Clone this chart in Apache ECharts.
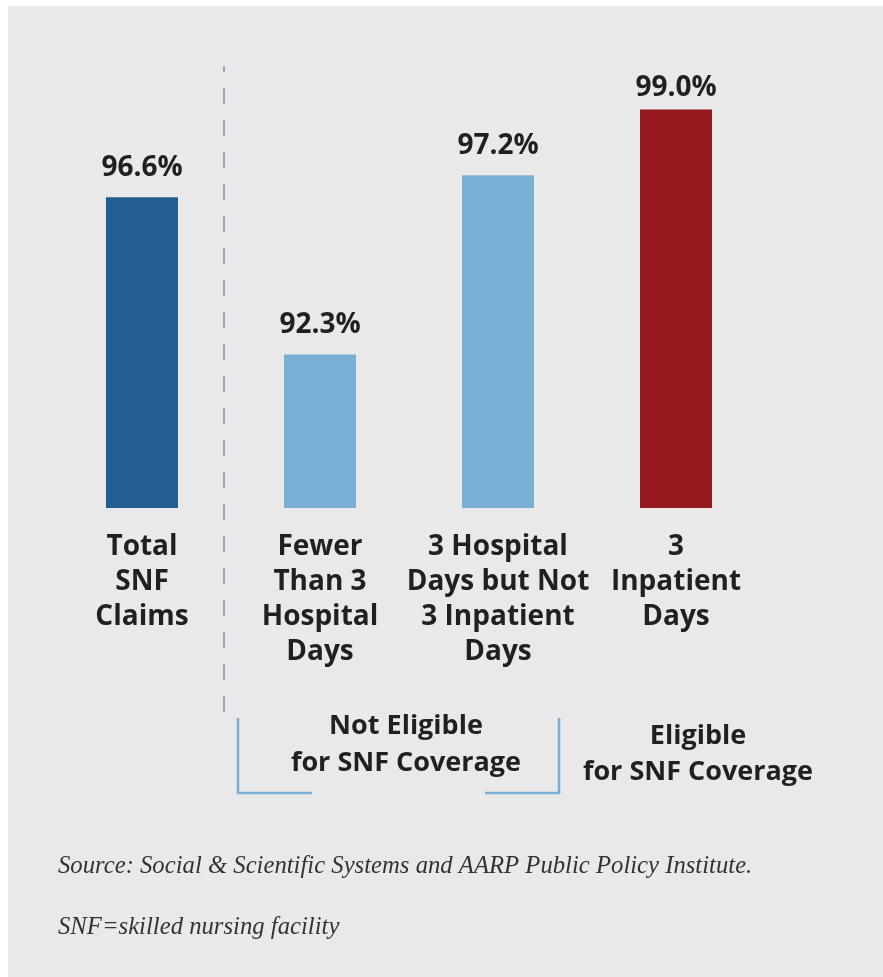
<!DOCTYPE html>
<html>
<head>
<meta charset="utf-8">
<script src="https://cdn.jsdelivr.net/npm/echarts@6/dist/echarts.min.js"></script>
<style>
html,body{margin:0;padding:0;background:#ffffff;}
#chart{width:883px;height:977px;}
</style>
</head>
<body>
<div id="chart"></div>
<script>
const categories = ['Total\nSNF\nClaims', 'Fewer\nThan 3\nHospital\nDays', '3 Hospital\nDays but Not\n3 Inpatient\nDays', '3\nInpatient\nDays'];
const values = [96.6, 92.3, 97.2, 99.0];
const barColors = ['#225e90', '#7aafd5', '#7aafd5', '#95191e'];
const groupLabels = ['Not Eligible\nfor SNF Coverage', 'Eligible\nfor SNF Coverage'];
const notes = ['Source: Social & Scientific Systems and AARP Public Policy Institute.', 'SNF=skilled nursing facility'];

const chart = echarts.init(document.getElementById('chart'), null, {renderer: 'canvas'});
const textColor = '#231f20';
const sans = '"Open Sans", Roboto, "Liberation Sans", sans-serif';
const serif = '"Liberation Serif", "DejaVu Serif", serif';
const labelDistances = [15, 15, 15, 8];

const option = {
  animation: false,
  backgroundColor: '#ffffff',
  grid: {left: 53, right: 118, top: 73, bottom: 469},
  xAxis: {
    type: 'category',
    data: categories,
    axisLine: {show: false},
    axisTick: {show: false},
    splitLine: {show: false},
    axisLabel: {
      interval: 0,
      margin: 22,
      color: textColor,
      fontFamily: sans,
      fontWeight: 'bold',
      fontSize: 28,
      lineHeight: 35,
      align: 'center',
      verticalAlign: 'top'
    }
  },
  yAxis: {
    type: 'value',
    min: 88.1,
    max: 100,
    show: false,
    splitLine: {show: false}
  },
  graphic: [
    {type: 'rect', z: -10, silent: true, shape: {x: 8, y: 6, width: 875, height: 971}, style: {fill: '#e9e9e9'}},
    {type: 'line', silent: true, shape: {x1: 224, y1: 66, x2: 224, y2: 712}, style: {stroke: '#a8a4b6', lineWidth: 2, lineDash: [16, 16], lineDashOffset: 10}},
    {type: 'polyline', silent: true, shape: {points: [[238, 718], [238, 793], [312, 793]]}, style: {stroke: '#78aed5', lineWidth: 2.5, fill: null}},
    {type: 'polyline', silent: true, shape: {points: [[485, 793], [559, 793], [559, 718]]}, style: {stroke: '#78aed5', lineWidth: 2.5, fill: null}},
    {type: 'text', silent: true, x: 406, y: 745, style: {text: groupLabels[0], fill: textColor, font: 'bold 27px ' + sans, lineHeight: 37, align: 'center', verticalAlign: 'middle'}},
    {type: 'text', silent: true, x: 698, y: 754, style: {text: groupLabels[1], fill: textColor, font: 'bold 27px ' + sans, lineHeight: 36, align: 'center', verticalAlign: 'middle'}},
    {type: 'text', silent: true, x: 58, y: 867, style: {text: notes[0], fill: '#333333', font: 'italic 24.7px ' + serif, align: 'left', verticalAlign: 'middle'}},
    {type: 'text', silent: true, x: 58, y: 928, style: {text: notes[1], fill: '#333333', font: 'italic 24.7px ' + serif, align: 'left', verticalAlign: 'middle'}}
  ],
  series: [{
    type: 'bar',
    barWidth: 72,
    data: values.map((v, i) => ({value: v, itemStyle: {color: barColors[i]}, label: {distance: labelDistances[i]}})),
    label: {
      show: true,
      position: 'top',
      distance: 15,
      formatter: p => p.value.toFixed(1) + '%',
      color: textColor,
      fontFamily: sans,
      fontWeight: 'bold',
      fontSize: 28
    }
  }]
};
chart.setOption(option);
</script>
</body>
</html>
